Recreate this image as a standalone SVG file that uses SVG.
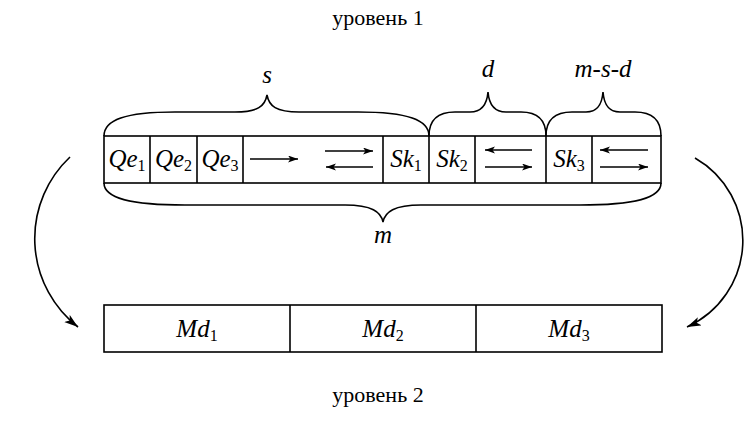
<svg xmlns="http://www.w3.org/2000/svg" width="744" height="426" viewBox="0 0 744 426">
  <style>
    .box { fill: #fff; stroke: #000; stroke-width: 1.6; }
    .div { stroke: #000; stroke-width: 1.6; }
    .brace { fill: none; stroke: #000; stroke-width: 1.6; }
    .arr { stroke: #000; stroke-width: 1.4; fill: none; }
    .bend { stroke: #000; stroke-width: 1.6; fill: none; }
    text { font-family: 'Liberation Serif', 'Times New Roman', serif; fill: #000; }
    .t { font-size: 22px; }
    .v { font-size: 25px; font-style: italic; }
    .sub { font-size: 16px; font-style: normal; }
  </style>
  <defs>
    <marker id="ah" markerUnits="userSpaceOnUse" markerWidth="11" markerHeight="8" refX="10" refY="3.5" orient="auto">
      <path d="M0,0 L10,3.5 L0,7 L2.5,3.5 Z" fill="#000"/>
    </marker>
    <marker id="ahBig" markerUnits="userSpaceOnUse" markerWidth="15" markerHeight="10" refX="14" refY="4.5" orient="auto">
      <path d="M0,0 L14,4.5 L0,9 L3.5,4.5 Z" fill="#000"/>
    </marker>
  </defs>

  <!-- level captions -->
  <text class="t" x="378" y="25" text-anchor="middle">уровень 1</text>
  <text class="t" x="378" y="402" text-anchor="middle">уровень 2</text>

  <!-- upper level: queue of segments -->
  <g id="level1">
    <rect class="box" x="104" y="136" width="557" height="47"/>
    <line class="div" x1="150" y1="136" x2="150" y2="183"/>
    <line class="div" x1="197" y1="136" x2="197" y2="183"/>
    <line class="div" x1="243" y1="136" x2="243" y2="183"/>
    <line class="div" x1="383" y1="136" x2="383" y2="183"/>
    <line class="div" x1="429" y1="136" x2="429" y2="183"/>
    <line class="div" x1="475" y1="136" x2="475" y2="183"/>
    <line class="div" x1="546" y1="136" x2="546" y2="183"/>
    <line class="div" x1="592" y1="136" x2="592" y2="183"/>
  </g>
  <g id="qe1"><text class="v" x="127" y="167" text-anchor="middle">Qe<tspan class="sub" dy="4">1</tspan></text></g>
  <g id="qe2"><text class="v" x="173.5" y="167" text-anchor="middle">Qe<tspan class="sub" dy="4">2</tspan></text></g>
  <g id="qe3"><text class="v" x="220" y="167" text-anchor="middle">Qe<tspan class="sub" dy="4">3</tspan></text></g>
  <g id="sk1"><text class="v" x="406" y="167" text-anchor="middle">Sk<tspan class="sub" dy="4">1</tspan></text></g>
  <g id="sk2"><text class="v" x="452" y="167" text-anchor="middle">Sk<tspan class="sub" dy="4">2</tspan></text></g>
  <g id="sk3"><text class="v" x="569" y="167" text-anchor="middle">Sk<tspan class="sub" dy="4">3</tspan></text></g>

  <!-- lower level: three modules -->
  <g id="level2">
    <rect class="box" x="104" y="305" width="558" height="47"/>
    <line class="div" x1="290" y1="305" x2="290" y2="352"/>
    <line class="div" x1="476" y1="305" x2="476" y2="352"/>
  </g>
  <g id="md1"><text class="v" x="197" y="337" text-anchor="middle">Md<tspan class="sub" dy="4">1</tspan></text></g>
  <g id="md2"><text class="v" x="383" y="337" text-anchor="middle">Md<tspan class="sub" dy="4">2</tspan></text></g>
  <g id="md3"><text class="v" x="569" y="337" text-anchor="middle">Md<tspan class="sub" dy="4">3</tspan></text></g>

  <!-- braces with their labels -->
  <g id="braces">
    <path class="brace" d="M104,136 C104,120 125,112 175,112 L235,112 C258,112 265,106 267,95 C269,106 276,112 299,112 L358,112 C408,112 429,120 429,136"/>
    <path class="brace" d="M429,136 C429,120 438,112 455,112 L470,112 C482,112 487,104 488,92 C489,104 494,112 506,112 L521,112 C538,112 546,120 546,136"/>
    <path class="brace" d="M546,136 C546,120 555,112 572,112 L586,112 C598,112 602,104 603,92 C604,104 608,112 620,112 L635,112 C652,112 661,120 661,136"/>
    <path class="brace" d="M104,183 C104,198 130,205 185,205 L345,205 C372,205 381,212 383,222 C385,212 394,205 421,205 L580,205 C635,205 661,198 661,183"/>
    <text class="v" x="267" y="83" text-anchor="middle">s</text>
    <text class="v" x="488" y="77" text-anchor="middle">d</text>
    <text class="v" x="603" y="77" text-anchor="middle">m-s-d</text>
    <text class="v" x="383" y="243" text-anchor="middle">m</text>
  </g>

  <!-- connectors -->
  <g id="connectors">
    <line class="arr" x1="250" y1="159" x2="298" y2="159" marker-end="url(#ah)"/>
    <line class="arr" x1="325" y1="151" x2="373" y2="151" marker-end="url(#ah)"/>
    <line class="arr" x1="373" y1="167" x2="326" y2="167" marker-end="url(#ah)"/>
    <line class="arr" x1="532" y1="150" x2="485" y2="150" marker-end="url(#ah)"/>
    <line class="arr" x1="485" y1="167" x2="532" y2="167" marker-end="url(#ah)"/>
    <line class="arr" x1="648" y1="150" x2="600" y2="150" marker-end="url(#ah)"/>
    <line class="arr" x1="600" y1="167" x2="648" y2="167" marker-end="url(#ah)"/>
    <path class="bend" d="M70,157 A112,112 0 0,0 78,327" marker-end="url(#ahBig)"/>
    <path class="bend" d="M695,158 A95,95 0 0,1 687,327" marker-end="url(#ahBig)"/>
  </g>
</svg>
